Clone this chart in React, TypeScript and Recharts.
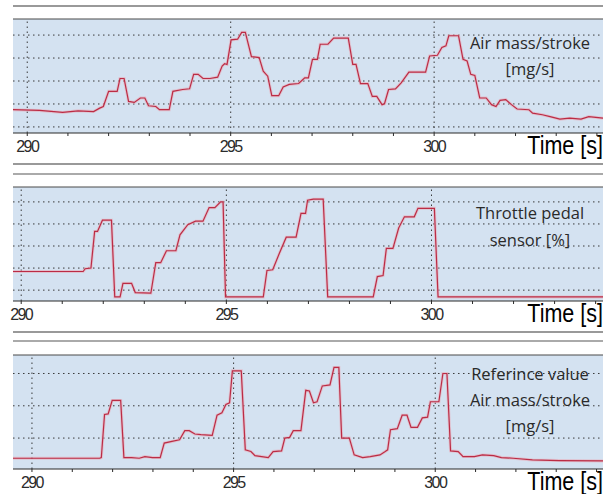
import React from "react";
import { LineChart, Line, XAxis, YAxis, CartesianGrid, ReferenceLine } from "recharts";

// panel 1: measured air mass / stroke
const airTimes = [289.65, 290.3, 290.87, 291.25, 291.63, 291.78, 291.87, 292.0, 292.21, 292.28, 292.38, 292.49, 292.63, 292.78, 292.89, 292.98, 293.16, 293.25, 293.49, 293.58, 293.82, 293.99, 294.09, 294.2, 294.32, 294.49, 294.68, 294.79, 294.85, 294.91, 295.01, 295.17, 295.27, 295.36, 295.51, 295.7, 295.8, 295.91, 296.01, 296.18, 296.29, 296.44, 296.67, 296.82, 296.91, 297.01, 297.13, 297.2, 297.39, 297.53, 297.89, 298.0, 298.08, 298.19, 298.37, 298.48, 298.59, 298.72, 298.78, 298.88, 299.05, 299.19, 299.38, 299.79, 299.89, 300.08, 300.19, 300.29, 300.36, 300.6, 300.71, 300.81, 300.9, 301.0, 301.12, 301.28, 301.41, 301.52, 301.62, 301.76, 301.9, 302.04, 302.33, 302.42, 302.66, 302.85, 303.09, 303.33, 303.61, 303.8, 304.15];
const airValues = [175, 172, 163, 170, 167, 182, 189, 255, 255, 311, 311, 211, 207, 226, 226, 192, 189, 175, 175, 255, 263, 266, 329, 329, 311, 311, 317, 365, 375, 372, 479, 482, 512, 512, 406, 402, 343, 321, 236, 236, 274, 285, 289, 314, 314, 394, 394, 460, 460, 487, 487, 372, 372, 289, 289, 233, 233, 197, 201, 263, 266, 292, 339, 339, 409, 412, 446, 453, 497, 497, 394, 387, 329, 324, 226, 226, 197, 189, 216, 219, 197, 178, 175, 160, 153, 145, 134, 138, 134, 145, 138];

// panel 2: throttle pedal sensor
const pedalTimes = [289.8, 291.51, 291.56, 291.7, 291.79, 291.86, 291.98, 292.2, 292.28, 292.41, 292.48, 292.69, 292.78, 293.16, 293.28, 293.4, 293.54, 293.77, 293.87, 294.06, 294.25, 294.43, 294.58, 294.72, 294.86, 294.92, 294.98, 295.9, 295.99, 296.13, 296.29, 296.46, 296.7, 296.82, 296.93, 296.98, 297.12, 297.36, 297.47, 298.58, 298.68, 298.82, 298.9, 299.06, 299.2, 299.34, 299.58, 299.67, 300.07, 300.16, 304.18];
const pedalValues = [36.9, 36.9, 39.4, 40.0, 73.2, 73.2, 83.4, 83.4, 13.8, 13.8, 26.2, 26.2, 17.8, 17.2, 44.9, 44.9, 55.7, 55.7, 70.2, 79.4, 82.5, 82.5, 94.8, 94.8, 100, 100, 13.8, 13.8, 37.8, 38.5, 53.2, 68.0, 68.0, 89.5, 89.5, 101.5, 102.5, 102.5, 13.8, 13.8, 32.3, 33.2, 57.8, 57.8, 76.3, 86.5, 86.5, 94.2, 94.2, 13.8, 13.8];

// panel 3: reference air mass / stroke
const refTimes = [289.53, 291.68, 291.72, 291.8, 291.89, 291.99, 292.2, 292.28, 292.47, 292.66, 292.8, 292.99, 293.18, 293.28, 293.47, 293.66, 293.79, 293.9, 294.04, 294.19, 294.47, 294.59, 294.71, 294.81, 294.9, 294.97, 295.19, 295.29, 295.43, 295.53, 295.86, 295.98, 296.19, 296.27, 296.39, 296.48, 296.67, 296.79, 296.88, 296.98, 297.07, 297.2, 297.39, 297.49, 297.61, 297.68, 297.87, 297.99, 298.2, 298.39, 298.63, 298.76, 298.82, 298.89, 299.06, 299.18, 299.3, 299.4, 299.56, 299.68, 299.81, 299.88, 300.09, 300.19, 300.29, 300.38, 300.57, 300.69, 300.97, 301.17, 301.45, 301.64, 301.93, 302.41, 303.08, 304.16];
const refValues = [37.5, 37.5, 39.6, 172.9, 175, 216.7, 216.7, 39.6, 39.6, 37.5, 42.7, 39.6, 39.6, 84.4, 89.6, 94.8, 122.9, 122.9, 112.5, 110.4, 108.3, 170.8, 178.1, 204.2, 209.4, 308.3, 308.3, 63.5, 58.3, 45.8, 39.6, 58.3, 60.4, 100, 102.1, 122.9, 122.9, 247.9, 245.8, 209.4, 212.5, 261.5, 264.6, 318.8, 318.8, 100, 100, 47.9, 39.6, 42.7, 47.9, 58.3, 63.5, 126, 129.2, 170.8, 170.8, 133.3, 133.3, 162.5, 164.6, 212.5, 212.5, 300, 300, 60.4, 58.3, 42.7, 42.7, 47.9, 45.8, 39.6, 37.5, 32.3, 30.2, 29.2];

const secondTicks = [290, 291, 292, 293, 294, 295, 296, 297, 298, 299, 300, 301, 302, 303, 304];
const majorTicks = [290, 295, 300];

const airGrid = [100, 200, 300, 400, 500];
const pedalGrid = [20, 40, 60, 80, 100];
const refGrid = [100, 200, 300];

const airLabel = ["Air mass/stroke", "[mg/s]"];
const pedalLabel = ["Throttle pedal", "sensor [%]"];
const refLabel = ["Referince value", "Air mass/stroke", "[mg/s]"];

function zip(ts: number[], vs: number[]) {
  const n = Math.min(ts.length, vs.length);
  const out: { t: number; v: number }[] = [];
  for (let i = 0; i < n; i++) out.push({ t: ts[i], v: vs[i] });
  return out;
}

const BG = "#d4e2f1";
const LINE = "#bb2c45";
const PLOT_H = 113;

type PanelProps = {
  top: number;
  data: { t: number; v: number }[];
  xDomain: [number, number];
  yDomain: [number, number];
  yTicks: number[];
  label: string[];
  labelTop: number;
  labelGap: number;
};

function Panel({ top, data, xDomain, yDomain, yTicks, label, labelTop, labelGap }: PanelProps) {
  // top = y of the plot area's top edge on the page
  return (
    <>
      <div style={{ position: "absolute", left: 0, top: top - 20 }}>
        <LineChart width={609} height={20 + PLOT_H + 30} data={data} margin={{ top: 19, right: 6, bottom: 0, left: 13 }}>
          <CartesianGrid horizontal={false} vertical={false} fill={BG} fillOpacity={1} />
          <XAxis
            dataKey="t"
            type="number"
            domain={xDomain}
            allowDataOverflow
            ticks={secondTicks}
            interval={0}
            tickFormatter={(v: number) => (majorTicks.includes(v) ? String(v) : "")}
            tickSize={3}
            tickMargin={5}
            height={30}
            axisLine={{ stroke: "#2a2a2a", strokeWidth: 1.2 }}
            tickLine={{ stroke: "#2a2a2a" }}
            tick={{ fontSize: 16, letterSpacing: -1.6, fill: "#2b2b2b", fontFamily: "Liberation Sans, Arial, sans-serif" }}
          />
          <XAxis
            xAxisId="top"
            orientation="top"
            type="number"
            domain={xDomain}
            allowDataOverflow
            ticks={secondTicks}
            interval={0}
            mirror
            tickFormatter={() => ""}
            tickSize={3}
            height={1}
            axisLine={{ stroke: "#4a4a4a", strokeWidth: 1.2 }}
            tickLine={{ stroke: "#2a2a2a" }}
          />
          <YAxis
            type="number"
            domain={yDomain}
            allowDataOverflow
            ticks={yTicks}
            width={0}
            tick={false}
            axisLine={false}
            tickLine={false}
          />
          {yTicks.map((g) => (
            <ReferenceLine key={"h" + g} y={g} stroke="#3a3a3a" strokeDasharray="1.5 3.5" />
          ))}
          {majorTicks.map((m) => (
            <ReferenceLine key={"v" + m} x={m} stroke="#3a3a3a" strokeDasharray="1.5 3.5" />
          ))}
          <Line
            type="linear"
            dataKey="v"
            stroke="#e9a6b2"
            strokeWidth={3}
            strokeOpacity={0.55}
            dot={false}
            isAnimationActive={false}
          />
          <Line
            type="linear"
            dataKey="v"
            stroke={LINE}
            strokeWidth={1.2}
            dot={false}
            isAnimationActive={false}
          />
        </LineChart>
      </div>
      <div
        style={{
          position: "absolute",
          left: 455,
          width: 150,
          top: labelTop,
          textAlign: "center",
          fontFamily: "Open Sans, sans-serif",
          fontSize: 16.5,
          lineHeight: `${labelGap}px`,
          color: "#2a2a2a",
        }}
      >
        {label.map((s) => (
          <div key={s}>{s}</div>
        ))}
      </div>
      <div
        style={{
          position: "absolute",
          right: 6,
          top: top + PLOT_H + 2,
          fontFamily: "Liberation Sans, Arial, sans-serif",
          fontSize: 25,
          lineHeight: "20px",
          color: "#000",
          transform: "scaleX(0.86)",
          transformOrigin: "right center",
          whiteSpace: "nowrap",
        }}
      >
        Time [s]
      </div>
    </>
  );
}

const sepLines = [5, 163, 173, 331, 340];

export default function App() {
  return (
    <div style={{ position: "absolute", left: 0, top: 0, width: 609, height: 494, background: "#fff", overflow: "hidden" }}>
      {sepLines.map((y, i) => (
        <div
          key={y}
          style={{
            position: "absolute",
            left: 13,
            width: 590,
            top: y,
            height: 1.5,
            background: i % 2 === 1 || i === 0 ? "#999" : "#aaa",
          }}
        />
      ))}
      <Panel
        top={20}
        data={zip(airTimes, airValues)}
        xDomain={[289.65, 304.15]}
        yDomain={[73.6, 570]}
        yTicks={airGrid}
        label={airLabel}
        labelTop={30}
        labelGap={26}
      />
      <Panel
        top={188}
        data={zip(pedalTimes, pedalValues)}
        xDomain={[289.8, 304.18]}
        yDomain={[10.15, 113.5]}
        yTicks={pedalGrid}
        label={pedalLabel}
        labelTop={199}
        labelGap={27}
      />
      <Panel
        top={356}
        data={zip(refTimes, refValues)}
        xDomain={[289.53, 304.16]}
        yDomain={[4.2, 357.3]}
        yTicks={refGrid}
        label={refLabel}
        labelTop={361}
        labelGap={26}
      />
    </div>
  );
}
